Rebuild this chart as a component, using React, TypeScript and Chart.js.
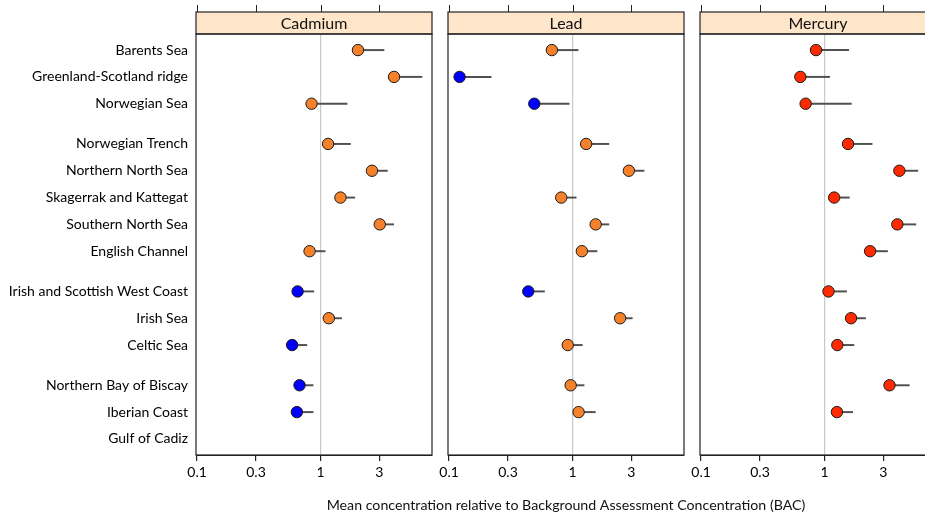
import React, { useEffect, useRef } from "react";
import { Chart, registerables } from "chart.js";

Chart.register(...registerables);

const regions = [
  "Barents Sea",
  "Greenland-Scotland ridge",
  "Norwegian Sea",
  "Norwegian Trench",
  "Northern North Sea",
  "Skagerrak and Kattegat",
  "Southern North Sea",
  "English Channel",
  "Irish and Scottish West Coast",
  "Irish Sea",
  "Celtic Sea",
  "Northern Bay of Biscay",
  "Iberian Coast",
  "Gulf of Cadiz",
];
const regionGroup = [0, 0, 0, 1, 1, 1, 1, 1, 2, 2, 2, 3, 3, 3];

const xTickValues = [0.1, 0.3, 1, 3];
const xTickLabels = ["0.1", "0.3", "1", "3"];

const cadmiumMean = [2.01, 3.94, 0.846, 1.152, 2.61, 1.45, 3.02, 0.815, 0.652, 1.167, 0.589, 0.676, 0.643, null];
const cadmiumUpper = [3.27, 6.63, 1.64, 1.748, 3.48, 1.894, 3.91, 1.09, 0.883, 1.48, 0.775, 0.871, 0.871, null];
const cadmiumStatus = ["B", "B", "B", "B", "B", "B", "B", "B", "A", "B", "A", "A", "A", null];

const leadMean = [0.68, 0.1216, 0.49, 1.29, 2.86, 0.81, 1.54, 1.19, 0.438, 2.43, 0.915, 0.966, 1.12, null];
const leadUpper = [1.11, 0.219, 0.94, 1.97, 3.8, 1.07, 1.97, 1.58, 0.593, 3.05, 1.2, 1.24, 1.53, null];
const leadStatus = ["B", "A", "A", "B", "B", "B", "B", "B", "A", "B", "B", "B", "B", null];

const mercuryMean = [0.853, 0.637, 0.703, 1.55, 4.04, 1.197, 3.89, 2.34, 1.077, 1.64, 1.27, 3.36, 1.26, null];
const mercuryUpper = [1.57, 1.1, 1.65, 2.43, 5.7, 1.59, 5.5, 3.24, 1.51, 2.15, 1.73, 4.86, 1.69, null];
const mercuryStatus = ["C", "C", "C", "C", "C", "C", "C", "C", "C", "C", "C", "C", "C", null];

const axisTitle = "Mean concentration relative to Background Assessment Concentration (BAC)";

const statusColors: Record<string, string> = { A: "#0000ff", B: "#f5822a", C: "#ff2a00" };
const FONT = "Lato";

const panelPlugin = {
  id: "panel",
  afterDraw(chart: any, _args: any, opts: any) {
    const { ctx } = chart;
    const { left, right, top, bottom } = chart.chartArea;
    const xs = chart.scales.x;
    const sTop = 12;
    ctx.save();
    ctx.fillStyle = "#ffe5c9";
    ctx.fillRect(left, sTop, right - left, top - sTop);
    ctx.strokeStyle = "#222";
    ctx.lineWidth = 1.2;
    ctx.strokeRect(left, sTop, right - left, top - sTop);
    ctx.strokeRect(left, top, right - left, bottom - top);
    ctx.lineWidth = 1;
    xs.ticks.forEach((t: any) => {
      const px = Math.round(xs.getPixelForValue(t.value)) + 0.5;
      ctx.beginPath();
      ctx.moveTo(px, 5);
      ctx.lineTo(px, sTop);
      ctx.stroke();
    });
    ctx.fillStyle = "#111";
    ctx.font = `16px ${FONT}`;
    ctx.textAlign = "center";
    ctx.textBaseline = "middle";
    ctx.fillText(opts.title, (left + right) / 2, (sTop + top) / 2 + 1);
    if (opts.axisTitle) {
      ctx.font = `14.2px ${FONT}`;
      ctx.fillText(opts.axisTitle, (left + right) / 2, 505);
    }
    ctx.restore();
  },
};

type PanelProps = {
  left: number;
  width: number;
  padL: number;
  padR: number;
  title: string;
  mean: (number | null)[];
  upper: (number | null)[];
  status: (string | null)[];
  showY: boolean;
  showTitle: boolean;
};

function Panel(p: PanelProps) {
  const ref = useRef<HTMLCanvasElement>(null);
  useEffect(() => {
    const pos = regions.map((_, i) => i + 0.5 * regionGroup[i]);
    const idx = regions.map((_, i) => i).filter((i) => p.mean[i] != null);
    const chart = new Chart(ref.current as HTMLCanvasElement, {
      type: "scatter",
      plugins: [panelPlugin as any],
      data: {
        datasets: [
          {
            type: "bar",
            indexAxis: "y",
            data: idx.map((i) => ({ y: pos[i], x: [p.mean[i], p.upper[i]] })),
            backgroundColor: "#505050",
            borderWidth: 0,
            barThickness: 1.3,
            order: 2,
          } as any,
          {
            type: "scatter",
            data: idx.map((i) => ({ x: p.mean[i], y: pos[i] })),
            pointRadius: 5.7,
            pointBackgroundColor: idx.map((i) => statusColors[p.status[i] as string]),
            pointBorderColor: "#1a1a1a",
            pointBorderWidth: 1,
            order: 1,
          } as any,
        ],
      },
      options: {
        responsive: false,
        animation: false,
        events: [],
        layout: { padding: { left: p.padL, right: p.padR, top: 34, bottom: 0 } },
        plugins: {
          legend: { display: false },
          tooltip: { enabled: false },
          panel: { title: p.title, axisTitle: p.showTitle ? axisTitle : null },
        } as any,
        scales: {
          x: {
            type: "logarithmic",
            min: 0.098,
            max: 8,
            bounds: "data",
            offset: false,
            position: "bottom",
            afterBuildTicks: (s: any) => {
              s.ticks = xTickValues.map((v) => ({ value: v }));
            },
            afterFit: (s: any) => {
              s.height = 63;
            },
            ticks: {
              callback: (_v: any, i: number) => xTickLabels[i],
              color: "#000",
              font: { family: FONT, size: 14 },
              padding: 3,
              maxRotation: 0,
              autoSkip: false,
            },
            grid: {
              offset: false,
              color: (c: any) => (c.tick && c.tick.value === 1 ? "#c8c8c8" : "rgba(0,0,0,0)"),
              tickColor: "#222",
              tickLength: 6,
              lineWidth: 1.2,
            },
            border: { display: true, color: "#222" },
            title: { display: false },
          } as any,
          y: {
            type: "linear",
            reverse: true,
            min: -0.6,
            max: 15.1,
            bounds: "data",
            offset: false,
            display: p.showY,
            afterBuildTicks: (s: any) => {
              s.ticks = pos.map((v) => ({ value: v }));
            },
            afterFit: (s: any) => {
              if (p.showY) s.width = 196 - p.padL;
            },
            ticks: {
              callback: (_v: any, i: number) => regions[i],
              color: "#000",
              font: { family: FONT, size: 14 },
              padding: 8,
              autoSkip: false,
            },
            grid: { display: false, drawTicks: false, offset: false },
            border: { display: false },
          } as any,
        },
      },
    });
    return () => chart.destroy();
  }, []);
  return (
    <canvas
      ref={ref}
      width={p.width}
      height={518}
      style={{ position: "absolute", left: p.left, top: 0, width: p.width, height: 518 }}
    />
  );
}

export default function App() {
  return (
    <div
      style={{
        position: "fixed",
        left: 0,
        top: 0,
        width: 925,
        height: 518,
        overflow: "hidden",
        background: "#fff",
      }}
    >
      <Panel left={0} width={450} padL={0} padR={18} title="Cadmium" mean={cadmiumMean} upper={cadmiumUpper} status={cadmiumStatus} showY={true} showTitle={false} />
      <Panel left={682} width={272} padL={18} padR={18} title="Mercury" mean={mercuryMean} upper={mercuryUpper} status={mercuryStatus} showY={false} showTitle={false} />
      <Panel left={290} width={556} padL={158} padR={162} title="Lead" mean={leadMean} upper={leadUpper} status={leadStatus} showY={false} showTitle={true} />
    </div>
  );
}
